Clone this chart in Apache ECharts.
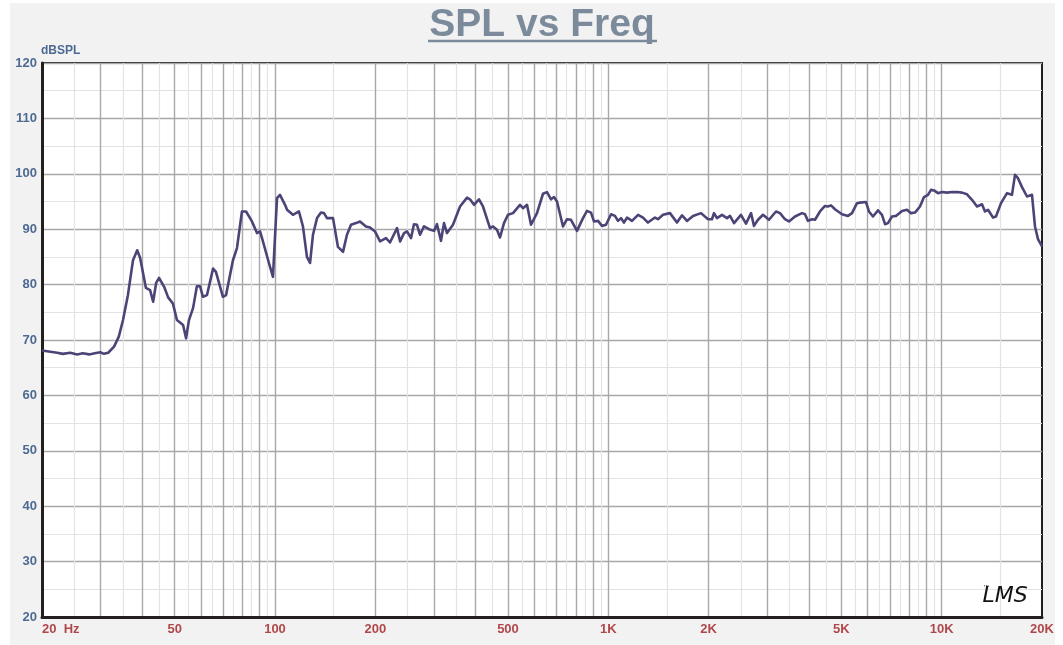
<!DOCTYPE html>
<html><head><meta charset="utf-8">
<script src="https://cdn.jsdelivr.net/npm/echarts@6/dist/echarts.min.js"></script>
<style>
html,body{margin:0;padding:0;background:#fff;}
#bg{position:absolute;left:10px;top:3px;width:1045px;height:642px;background:#f2f2f2;}
#c{position:absolute;left:0;top:0;width:1063px;height:645px;}
</style></head>
<body><div id="bg"></div><div id="c"></div>
<script>
const freqHz = [20,22.2,23.1,24.3,25.5,26.5,27.7,28.8,29.9,30.7,31.6,32.9,34.0,35.0,36.2,37.5,38.6,39.4,41.0,42.2,43.1,44.0,44.9,46.5,47.8,49.4,50.8,53.0,54.1,55.2,56.8,58.3,59.6,60.8,62.5,65.2,66.5,69.8,71.3,74.8,76.9,79.6,81.9,85.3,88.3,90.2,92.1,95.9,98.6,101.4,103.5,107.2,108.7,113.2,118.0,121.3,124.7,127.4,130.0,133.7,137.4,140.3,143.2,149.3,154.5,160.0,164.4,169.1,175.0,179.9,187.5,192.8,199.5,206.6,215.3,221.3,232.3,237.3,243.9,248.9,255.9,261.2,266.7,272.3,279.9,289.8,300.0,306.2,314.8,321.4,328.1,342.0,359.0,376.8,384.6,395.4,409.3,420.7,441.6,450.8,463.4,473.2,486.4,500,517.6,543.3,554.6,570.2,586.2,611,636.8,654.6,673,687.1,701.5,731.2,751.7,772.7,805.4,839.5,863,887.2,905.8,931.2,957.2,984,1019,1047,1069,1092,1114,1138,1178,1228,1271,1315,1380,1409,1459,1531,1607,1664,1722,1795,1897,1991,2046,2075,2118,2193,2270,2318,2383,2500,2588,2680,2735,2812,2911,3034,3184,3274,3388,3483,3631,3811,3890,3972,4083,4169,4315,4467,4560,4656,4786,5024,5236,5383,5572,5689,5768,5929,6053,6223,6442,6622,6762,6902,7096,7295,7604,7871,8092,8318,8610,8851,9099,9290,9484,9750,10024,10375,10740,11117,11508,11913,12331,12765,12942,13213,13490,13773,14257,14555,15067,15704,16255,16596,16943,17420,18032,18281,18665,19055,19454,20000];
const splDb = [68.1,67.7,67.5,67.7,67.4,67.6,67.4,67.6,67.8,67.5,67.7,68.8,70.6,73.6,78.1,84.4,86.2,84.8,79.4,79.0,76.9,80.3,81.2,79.6,77.7,76.6,73.6,72.7,70.3,73.6,75.8,79.7,79.7,77.8,78.1,82.9,82.3,77.8,78.1,84.4,86.6,93.2,93.2,91.4,89.3,89.6,87.7,83.9,81.4,95.6,96.2,94.4,93.5,92.6,93.2,90.5,85.0,83.9,89.0,92.0,93.0,92.9,92.0,92.0,86.8,85.9,89.0,90.8,91.1,91.4,90.5,90.3,89.6,87.8,88.4,87.6,90.2,87.8,89.3,89.6,88.4,90.9,90.8,89.0,90.5,90.0,89.7,90.9,87.9,91.1,89.3,90.8,94.1,95.7,95.4,94.4,95.4,94.1,90.2,90.5,89.9,88.5,91.1,92.6,92.9,94.4,93.8,94.4,90.8,92.9,96.4,96.7,95.4,95.8,95.0,90.5,91.8,91.7,89.7,92.0,93.3,93.0,91.4,91.5,90.6,90.8,92.7,92.4,91.5,92.0,91.2,92.1,91.5,92.6,92.1,91.2,92.1,91.8,92.6,92.9,91.2,92.5,91.5,92.4,92.9,91.8,91.8,92.9,92.0,92.6,92.0,92.4,91.1,92.6,91.0,92.9,90.6,91.7,92.6,91.7,93.2,92.9,91.8,91.4,92.3,92.9,92.7,91.5,91.8,91.7,93.2,94.2,94.1,94.3,93.6,92.7,92.4,92.9,94.7,94.8,94.6,94.9,93.2,92.3,93.4,92.6,90.9,91.1,92.3,92.4,93.3,93.5,92.9,93.0,94.1,95.8,96.2,97.1,97.0,96.5,96.7,96.6,96.7,96.7,96.6,96.3,95.3,94.1,93.8,94.5,93.2,93.5,92.1,92.3,94.7,96.5,96.2,99.8,99.2,97.6,95.9,95.6,96.2,90.5,88.2,86.9];
const yTicks = [20,30,40,50,60,70,80,90,100,110,120];
const xLabelFreqs = [20,50,100,200,500,1000,2000,5000,10000,20000];
const xLabelTexts = ['20  Hz','50','100','200','500','1K','2K','5K','10K','20K'];
const majorGridFreqs = [30,40,50,60,70,80,90,100,200,300,400,500,600,700,800,900,1000,2000,3000,4000,5000,6000,7000,8000,9000,10000];
const minorGridFreqs = [25,35,45,55,65,75,85,95,150,250,350,450,550,650,750,850,950,1500,2500,3500,4500,5500,6500,7500,8500,9500,15000];

const FMIN = Math.log10(20), FMAX = Math.log10(20000);
const lg = v => Math.log10(v);
const font = 'Liberation Sans, Arial, Helvetica, sans-serif';
const dark = '#231f20';

const chart = echarts.init(document.getElementById('c'), null, {renderer: 'canvas'});
chart.setOption({
  animation: false,
  grid: {left: 42, right: 21, top: 63, bottom: 28, show: true, backgroundColor: '#ffffff', borderColor: dark, borderWidth: 2},
  xAxis: [
    {type: 'value', min: FMIN, max: FMAX, position: 'bottom',
     axisLine: {show: true, onZero: false, lineStyle: {color: dark, width: 3}},
     axisTick: {show: false, customValues: majorGridFreqs.map(lg)},
     splitLine: {show: true, lineStyle: {color: '#a8a8a8', width: 1.4}},
     axisLabel: {customValues: xLabelFreqs.map(lg), margin: 6, color: '#b0484b', fontWeight: 'bold', fontSize: 13, fontFamily: font,
       alignMinLabel: 'left',
       formatter: v => { const i = xLabelFreqs.findIndex(f => Math.abs(lg(f) - v) < 1e-6); return i >= 0 ? xLabelTexts[i] : ''; }}},
    {type: 'value', min: FMIN, max: FMAX, position: 'bottom',
     axisLine: {show: false}, axisLabel: {show: false},
     axisTick: {show: false, customValues: minorGridFreqs.map(lg)},
     splitLine: {show: true, lineStyle: {color: '#e3e3e3', width: 1.2}}}
  ],
  yAxis: {type: 'value', min: 20, max: 120, interval: 10,
    axisLine: {show: true, onZero: false, lineStyle: {color: dark, width: 3}},
    axisTick: {show: false},
    minorTick: {show: false, splitNumber: 2},
    splitLine: {show: true, lineStyle: {color: '#a8a8a8', width: 1.4}},
    minorSplitLine: {show: true, lineStyle: {color: '#e3e3e3', width: 1.2}},
    axisLabel: {margin: 5, color: '#4d6a93', fontWeight: 'bold', fontSize: 13, fontFamily: font,
      formatter: v => yTicks.includes(v) ? String(v) : ''},
    name: 'dBSPL', nameLocation: 'end', nameGap: 6,
    nameTextStyle: {align: 'left', verticalAlign: 'bottom', color: '#4d6a93', fontWeight: 'bold', fontSize: 12, fontFamily: font, padding: [0, 0, -2, -1]}
  },
  graphic: [
    {type: 'text', z: 10, style: {x: 542, y: 25, text: 'SPL vs Freq', align: 'center', verticalAlign: 'middle',
      font: 'bold 39px ' + font, fill: '#7b8b9c'}},
    {type: 'line', z: 10, shape: {x1: 428, y1: 41, x2: 657, y2: 41}, style: {stroke: '#7b8b9c', lineWidth: 2.5}},
    {type: 'text', z: 10, style: {x: 983, y: 584, text: '™', font: '6px ' + font, fill: '#333'}},
    {type: 'text', z: 10, style: {x: 1005, y: 596, text: 'LMS', align: 'center', verticalAlign: 'middle',
      font: 'italic 22px DejaVu Sans, sans-serif', fill: '#111'}}
  ],
  series: [{
    type: 'line', xAxisIndex: 0, yAxisIndex: 0, showSymbol: false, silent: true,
    data: freqHz.map((f, i) => [lg(f), splDb[i]]),
    lineStyle: {color: '#4b4577', width: 2.6, join: 'round'},
    itemStyle: {color: '#4b4577'}
  }]
});
</script>
</body></html>
